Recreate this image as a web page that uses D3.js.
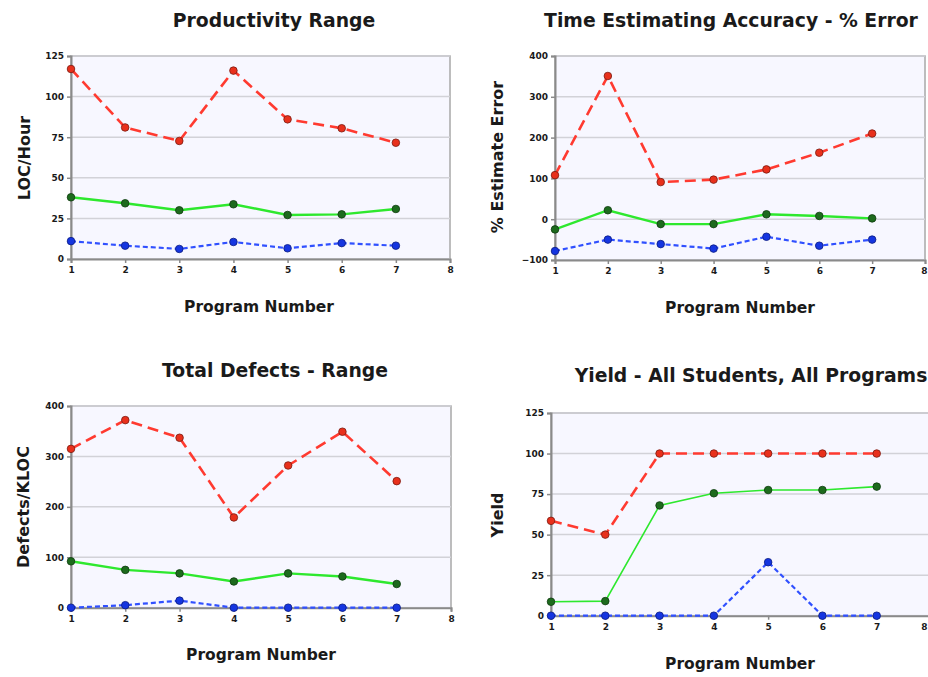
<!DOCTYPE html>
<html>
<head>
<meta charset="utf-8">
<script src="https://cdn.jsdelivr.net/npm/d3@7"></script>
<style>
  html, body { margin: 0; padding: 0; background: #ffffff; }
  svg { display: block; }
  text { font-family: "DejaVu Sans", Verdana, sans-serif; fill: #1a1a1a; }
</style>
</head>
<body>
<script>
// ---------- DATA ----------
const programs = [1, 2, 3, 4, 5, 6, 7];
const xTicks = [1, 2, 3, 4, 5, 6, 7, 8];

// Productivity Range (LOC/Hour)
const prodMax = [117, 81, 72.7, 116, 86, 80.5, 71.6];
const prodAvg = [38, 34.3, 30, 33.7, 27.1, 27.5, 30.8];
const prodMin = [11, 8.2, 6.2, 10.5, 6.6, 9.8, 8.2];
const prodTicks = [0, 25, 50, 75, 100, 125];

// Time Estimating Accuracy (% Estimate Error)
const timeMax = [108, 351, 91, 97, 122, 163, 210];
const timeAvg = [-25, 22, -12, -12, 12, 8, 2];
const timeMin = [-78, -50, -61, -72, -43, -65, -50];
const timeTicks = [-100, 0, 100, 200, 300, 400];

// Total Defects (Defects/KLOC)
const defMax = [315, 372, 337, 179, 282, 349, 251];
const defAvg = [92, 75, 68, 52, 68, 62, 47];
const defMin = [0, 5, 14, 0, 0, 0, 0];
const defTicks = [0, 100, 200, 300, 400];

// Yield
const yieldMax = [58.5, 50, 100, 100, 100, 100, 100];
const yieldAvg = [8.6, 9, 68, 75.5, 77.5, 77.5, 79.6];
const yieldMin = [0, 0, 0, 0, 33, 0, 0];
const yieldTicks = [0, 25, 50, 75, 100, 125];

// ---------- DRAWING ----------
const W = 928, H = 677;
const svg = d3.select("body").append("svg").attr("width", W).attr("height", H);

const styles = {
  max: { line: "#ff3a30", width: 2.6, dash: "11,6", dot: "#e8301c", dotStroke: "#7a1a10" },
  avg: { line: "#2ee82e", width: 2.4, dash: null, dot: "#1d6a1d", dotStroke: "#0e3a0e" },
  min: { line: "#3050ff", width: 2.2, dash: "5,3", dot: "#1535e0", dotStroke: "#0a1a80" }
};

function panel(cfg) {
  const g = svg.append("g");
  const x = d3.scaleLinear().domain([1, 8]).range([cfg.left, cfg.right]);
  const y = d3.scaleLinear().domain(cfg.yDomain).range([cfg.bottom, cfg.top]);

  // background
  g.append("rect")
    .attr("x", cfg.left).attr("y", cfg.top)
    .attr("width", cfg.right - cfg.left).attr("height", cfg.bottom - cfg.top)
    .attr("fill", "#f7f7ff").attr("stroke", "#a8a8a8").attr("stroke-width", 1.5);

  // grid lines
  g.selectAll(".grid").data(cfg.yTicks).enter().append("line")
    .attr("x1", cfg.left).attr("x2", cfg.right)
    .attr("y1", d => y(d)).attr("y2", d => y(d))
    .attr("stroke", "#d2d2d8").attr("stroke-width", 1.5);

  // axes
  const yAxis = d3.axisLeft(y).tickValues(cfg.yTicks).tickSize(4).tickPadding(3);
  const ya = g.append("g").attr("transform", `translate(${cfg.left},0)`).call(yAxis);
  ya.select(".domain").attr("stroke", "#8a8a8a").attr("stroke-width", 2);
  ya.selectAll(".tick line").attr("stroke", "#8a8a8a").attr("stroke-width", 1.5);
  ya.selectAll(".tick text").attr("font-size", 9).attr("font-weight", "bold")
    .attr("font-family", "DejaVu Sans").attr("fill", "#222");

  const xAxis = d3.axisBottom(x).tickValues(xTicks).tickSize(4).tickPadding(4).tickFormat(d3.format("d"));
  const xa = g.append("g").attr("transform", `translate(0,${y(cfg.yDomain[0])})`).call(xAxis);
  xa.select(".domain").attr("stroke", "#8a8a8a").attr("stroke-width", 2);
  xa.selectAll(".tick line").attr("stroke", "#8a8a8a").attr("stroke-width", 1.5);
  xa.selectAll(".tick text").attr("font-size", 9).attr("font-weight", "bold")
    .attr("font-family", "DejaVu Sans").attr("fill", "#222")
    .attr("text-anchor", d => x(d) > W - 4 ? "end" : "middle")
    .attr("dx", d => x(d) > W - 4 ? (W - 1 - x(d)) : 0);

  // series
  const series = [
    { key: "max", values: cfg.max },
    { key: "avg", values: cfg.avg },
    { key: "min", values: cfg.min }
  ];
  const line = d3.line().x((d, i) => x(programs[i])).y(d => y(d));
  series.forEach(s => {
    const st = styles[s.key];
    g.append("path").datum(s.values)
      .attr("d", line).attr("fill", "none")
      .attr("stroke", st.line).attr("stroke-width", cfg.key === "yield" && s.key === "avg" ? 1.6 : st.width)
      .attr("stroke-dasharray", st.dash);
  });
  series.slice().reverse().forEach(s => {
    const st = styles[s.key];
    g.selectAll(null).data(s.values).enter().append("circle")
      .attr("cx", (d, i) => x(programs[i])).attr("cy", d => y(d)).attr("r", 3.8)
      .attr("fill", st.dot).attr("stroke", st.dotStroke).attr("stroke-width", 0.8);
  });

  // titles
  svg.append("text").attr("x", cfg.titleX).attr("y", cfg.titleY)
    .attr("text-anchor", "middle").attr("font-size", 18.8).attr("font-weight", "bold")
    .text(cfg.title);
  svg.append("text").attr("x", cfg.xLabelX).attr("y", cfg.xLabelY)
    .attr("text-anchor", "middle").attr("font-size", 15.5).attr("font-weight", "bold")
    .attr("fill", "#222").text("Program Number");
  svg.append("text")
    .attr("transform", `translate(${cfg.yLabelX},${cfg.yLabelY}) rotate(-90)`)
    .attr("text-anchor", "middle").attr("font-size", 16).attr("font-weight", "bold")
    .attr("fill", "#222").text(cfg.yLabel);
}

panel({
  key: "prod", title: "Productivity Range", yLabel: "LOC/Hour",
  left: 71, right: 450, top: 56, bottom: 259, yDomain: [0, 125], yTicks: prodTicks,
  max: prodMax, avg: prodAvg, min: prodMin,
  titleX: 274, titleY: 27, xLabelX: 259, xLabelY: 312, yLabelX: 30, yLabelY: 158
});
panel({
  key: "time", title: "Time Estimating Accuracy - % Error", yLabel: "% Estimate Error",
  left: 555, right: 925, top: 56, bottom: 260, yDomain: [-100, 400], yTicks: timeTicks,
  max: timeMax, avg: timeAvg, min: timeMin,
  titleX: 731, titleY: 27, xLabelX: 740, xLabelY: 313, yLabelX: 503, yLabelY: 157
});
panel({
  key: "def", title: "Total Defects - Range", yLabel: "Defects/KLOC",
  left: 71, right: 451, top: 406, bottom: 607.7, yDomain: [0, 400], yTicks: defTicks,
  max: defMax, avg: defAvg, min: defMin,
  titleX: 275, titleY: 377, xLabelX: 261, xLabelY: 660, yLabelX: 29, yLabelY: 507
});
panel({
  key: "yield", title: "Yield - All Students, All Programs", yLabel: "Yield",
  left: 551, right: 931, top: 413, bottom: 615.7, yDomain: [0, 125], yTicks: yieldTicks,
  max: yieldMax, avg: yieldAvg, min: yieldMin,
  titleX: 751, titleY: 382, xLabelX: 740, xLabelY: 669, yLabelX: 503, yLabelY: 515
});
</script>
</body>
</html>
